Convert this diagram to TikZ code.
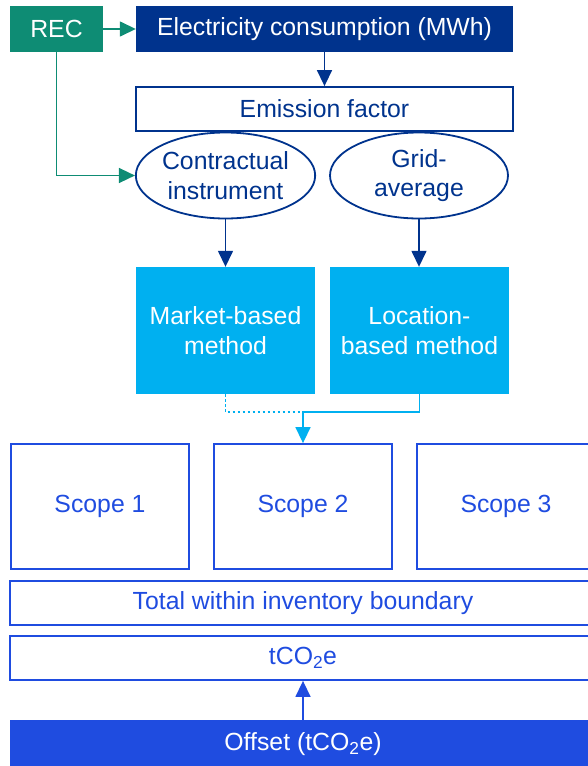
\documentclass[tikz,border=0pt]{standalone}
\usepackage{fontspec}
\setmainfont{Liberation Sans}
\usetikzlibrary{arrows.meta,positioning,shapes.geometric}
\definecolor{recgreen}{HTML}{0E8C74}
\definecolor{navy}{HTML}{00338D}
\definecolor{sky}{HTML}{00B0F0}
\definecolor{royal}{HTML}{1F4CE0}
\tikzset{>={Triangle[length=16pt,width=15pt]},base/.style={rectangle,inner sep=0pt,align=center,font=\fontsize{24.8}{29.5}\selectfont},darkbox/.style={base,fill=navy,text=white},linebox/.style={base,draw=navy,line width=1.8pt,text=navy},oval/.style={ellipse,inner sep=0pt,draw=navy,line width=1.8pt,text=navy,align=center,font=\fontsize{24.8}{29.5}\selectfont,minimum width=179pt,minimum height=86pt},methodbox/.style={base,fill=sky,text=white,minimum width=179pt,minimum height=127pt},scopebox/.style={base,draw=royal,line width=1.8pt,text=royal},arr/.style={->,line width=1.5pt}}

\begin{document}
\begin{tikzpicture}[x=1pt,y=-1pt]
\useasboundingbox (0,0) rectangle (588,766);
% top row
\node[base,fill=recgreen,text=white,minimum width=93pt,minimum height=46pt] (rec) at (56.5,29) {REC};
\node[darkbox,minimum width=377pt,minimum height=46pt] (elec) at (324.5,29) {Electricity consumption (MWh)};
\node[linebox,minimum width=377pt,minimum height=44pt] (factor) at (324.5,109) {Emission factor};
% emission factor types
\node[oval] (contract) at (225.5,175.5) {Contractual\\instrument};
\node[oval,minimum width=178pt] (grid) at (419,175.5) {Grid-\\average};
\node[methodbox] (market) at (225.5,330.5) {Market-based\\method};
\node[methodbox] (location) at (419.5,330.5) {Location-\\based method};
\coordinate (join) at (303,412);
% scopes
\node[scopebox,minimum width=178pt,minimum height=125pt] (scope1) at (100,506.5) {Scope 1};
\node[scopebox,minimum width=178pt,minimum height=125pt] (scope2) at (303,506.5) {Scope 2};
\node[scopebox,minimum width=178pt,minimum height=125pt] (scope3) at (506,506.5) {Scope 3};
\node[scopebox,minimum width=586pt,minimum height=44pt] (total) at (303,603) {Total within inventory boundary};
\node[scopebox,minimum width=586pt,minimum height=44pt] (tco) at (303,658) {tCO\textsubscript{2}e};
\node[base,fill=royal,text=white,minimum width=586pt,minimum height=48pt] (offset) at (303,744) {Offset (tCO\textsubscript{2}e)};
% connectors
\draw[arr,recgreen] (rec) -- (elec);
\draw[arr,recgreen] (rec.south) |- (contract.west);
\draw[arr,navy] (elec) -- (factor);
\draw[arr,navy] (contract) -- (market);
\draw[arr,navy] (grid.south) -- (grid.south |- location.north);
\draw[sky,line width=1.5pt,dash pattern=on 2.5pt off 2.5pt] (market.south) |- (join);
\draw[arr,sky] (location.south) |- (join) -- (scope2.north);
\draw[arr,royal] (offset) -- (tco);
\end{tikzpicture}
\end{document}
